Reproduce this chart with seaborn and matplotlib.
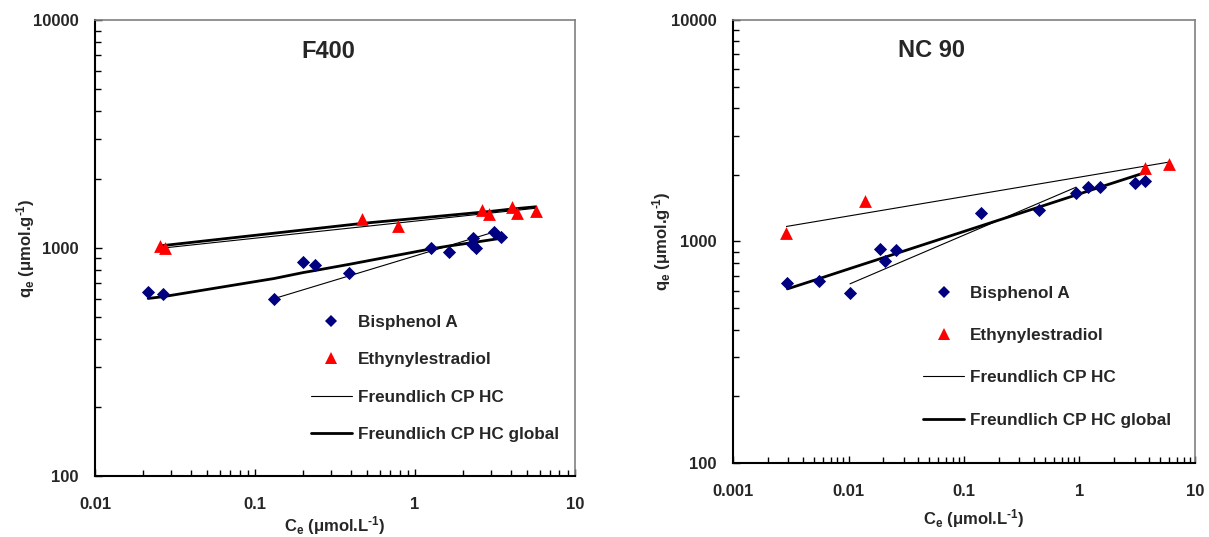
import matplotlib
matplotlib.use('Agg')
import seaborn as sns
from matplotlib import pyplot as plt
from matplotlib.lines import Line2D
from matplotlib.ticker import LogLocator, FixedLocator, NullFormatter, FuncFormatter

sns.set_style('ticks')
plt.rcParams['font.family'] = ['Liberation Sans', 'DejaVu Sans']
plt.rcParams['font.weight'] = 'bold'
plt.rcParams['mathtext.fontset'] = 'custom'
plt.rcParams['mathtext.rm'] = 'Liberation Sans:bold'
plt.rcParams['mathtext.it'] = 'Liberation Sans:bold'
plt.rcParams['mathtext.bf'] = 'Liberation Sans:bold'
plt.rcParams['mathtext.default'] = 'rm'

NAVY = '#000080'
RED = '#ff0000'

# ---- F400 ----
f400_bpa_ce = [0.0215, 0.0267, 0.1315, 0.199, 0.237, 0.387, 1.25, 1.63, 2.29, 2.26, 2.40, 3.12, 3.43]
f400_bpa_qe = [640, 631, 596, 865, 839, 775, 1003, 957, 1107, 1038, 1000, 1172, 1114]
f400_ee_ce = [0.0255, 0.0275, 0.469, 0.787, 2.61, 2.91, 4.02, 4.32, 5.70]
f400_ee_qe = [1020, 1000, 1340, 1253, 1468, 1410, 1517, 1430, 1452]

# individual fits (thin)
f400_bpa_fit_ce = [0.1315, 3.30]
f400_bpa_fit_qe = [600, 1190]
f400_ee_fit_ce = [0.0255, 5.70]
f400_ee_fit_qe = [997, 1495]
# global fits (thick)
f400_bpa_glob_ce = [0.0215, 0.0267, 0.1315, 0.199, 0.237, 0.387, 1.25, 1.63, 2.26, 3.43]
f400_bpa_glob_qe = [601, 612, 735, 780, 797, 848, 991, 1021, 1055, 1103]
f400_ee_glob_ce = [0.0255, 0.0275, 0.469, 0.787, 2.61, 2.91, 4.02, 4.32, 5.70]
f400_ee_glob_qe = [1024, 1028, 1283, 1327, 1436, 1446, 1483, 1490, 1517]

# ---- NC 90 ----
nc90_bpa_ce = [0.00296, 0.00554, 0.0103, 0.0187, 0.0205, 0.0258, 0.139, 0.448, 0.936, 1.19, 1.50, 3.04, 3.70]
nc90_bpa_qe = [650, 662, 586, 927, 815, 917, 1338, 1390, 1659, 1759, 1759, 1841, 1866]
nc90_ee_ce = [0.0029, 0.0139, 3.70, 5.90]
nc90_ee_qe = [1094, 1531, 2143, 2243]

nc90_bpa_fit_ce = [0.0103, 0.936]
nc90_bpa_fit_qe = [644, 1759]
nc90_ee_fit_ce = [0.0029, 5.90]
nc90_ee_fit_qe = [1169, 2281]
nc90_bpa_glob_ce = [0.00296, 0.00554, 0.0103, 0.0187, 0.0258, 0.139, 0.448, 0.936, 1.50, 3.70]
nc90_bpa_glob_qe = [611, 679, 755, 835, 882, 1174, 1431, 1622, 1758, 2047]

x_ticks_f400 = [0.01, 0.1, 1, 10]
x_ticks_nc90 = [0.001, 0.01, 0.1, 1, 10]
y_ticks = [100, 1000, 10000]

fig = plt.figure(figsize=(12.09, 5.37), dpi=100)
ax1 = fig.add_axes([0.0786, 0.1136, 0.397, 0.849])
ax2 = fig.add_axes([0.6063, 0.1378, 0.3821, 0.825])

HY = '\u2010'  # short hyphen for the superscript, as in the original


def draw_panel(ax, bpa_ce, bpa_qe, ee_ce, ee_qe, fits, globs, xticks, title, title_xy, leg_xy, leg_space):
    for ce, qe in fits:
        sns.lineplot(x=ce, y=qe, ax=ax, color='black', linewidth=0.8, sort=False, estimator=None)
    for ce, qe in globs:
        sns.lineplot(x=ce, y=qe, ax=ax, color='black', linewidth=2.0, sort=False, estimator=None)
    sns.scatterplot(x=bpa_ce, y=bpa_qe, ax=ax, marker='D', color=NAVY, s=45, linewidth=0, zorder=3)
    sns.scatterplot(x=ee_ce, y=ee_qe, ax=ax, marker='^', color=RED, s=85, linewidth=0, zorder=3)

    ax.set_xscale('log')
    ax.set_yscale('log')
    ax.set_xlim(xticks[0], xticks[-1])
    ax.set_ylim(y_ticks[0], y_ticks[-1])
    for axis, ticks in ((ax.xaxis, xticks), (ax.yaxis, y_ticks)):
        axis.set_major_locator(FixedLocator(ticks))
        axis.set_minor_locator(LogLocator(base=10, subs=range(2, 10), numticks=20))
        axis.set_major_formatter(FuncFormatter(lambda v, p: f'{v:g}'))
        axis.set_minor_formatter(NullFormatter())
    ax.tick_params(which='both', direction='in', color='black', labelsize=12)
    ax.tick_params(which='major', length=5, width=1)
    ax.tick_params(which='minor', length=4, width=1)
    ax.tick_params(axis='x', which='major', pad=15)
    ax.tick_params(axis='y', which='major', pad=12)

    for side in ('left', 'bottom'):
        ax.spines[side].set_color('black')
        ax.spines[side].set_linewidth(1.5)
    for side in ('top', 'right'):
        ax.spines[side].set_color('#808080')
        ax.spines[side].set_linewidth(1.2)

    ax.text(title_xy[0], title_xy[1], title, transform=ax.transAxes, ha='center', va='center',
            fontsize=17, fontweight='bold')

    ax.set_xlabel(r'C$_e$ ($\mu$mol.L$^{' + HY + r'1}$)', fontsize=12, fontweight='bold')
    ax.set_ylabel(r'q$_e$ ($\mu$mol.g$^{' + HY + r'1}$)', fontsize=12, fontweight='bold')

    handles = [
        Line2D([], [], marker='D', color=NAVY, linestyle='', markersize=6, markeredgewidth=0),
        Line2D([], [], marker='^', color=RED, linestyle='', markersize=8.5, markeredgewidth=0),
        Line2D([], [], color='black', linewidth=0.8),
        Line2D([], [], color='black', linewidth=2.0),
    ]
    labels = ['Bisphenol A', 'Ethynylestradiol', 'Freundlich CP HC', 'Freundlich CP HC global']
    ax.legend(handles, labels, loc='center', bbox_to_anchor=leg_xy, frameon=False,
              handlelength=2.4, handletextpad=0.35, labelspacing=leg_space,
              borderpad=0, prop={'weight': 'bold', 'size': 12.3})


draw_panel(ax1, f400_bpa_ce, f400_bpa_qe, f400_ee_ce, f400_ee_qe,
           [(f400_bpa_fit_ce, f400_bpa_fit_qe), (f400_ee_fit_ce, f400_ee_fit_qe)],
           [(f400_bpa_glob_ce, f400_bpa_glob_qe), (f400_ee_glob_ce, f400_ee_glob_qe)],
           x_ticks_f400, 'F400', (0.485, 0.93), (0.708, 0.214), 1.3)
draw_panel(ax2, nc90_bpa_ce, nc90_bpa_qe, nc90_ee_ce, nc90_ee_qe,
           [(nc90_bpa_fit_ce, nc90_bpa_fit_qe), (nc90_ee_fit_ce, nc90_ee_fit_qe)],
           [(nc90_bpa_glob_ce, nc90_bpa_glob_qe)],
           x_ticks_nc90, 'NC 90', (0.43, 0.93), (0.68, 0.24), 1.6)

ax1.xaxis.set_label_coords(0.5, -0.083)
ax1.yaxis.set_label_coords(-0.12, 0.5)
ax2.xaxis.set_label_coords(0.52, -0.1)
ax2.yaxis.set_label_coords(-0.13, 0.5)

fig.savefig('out.png', dpi=100)
